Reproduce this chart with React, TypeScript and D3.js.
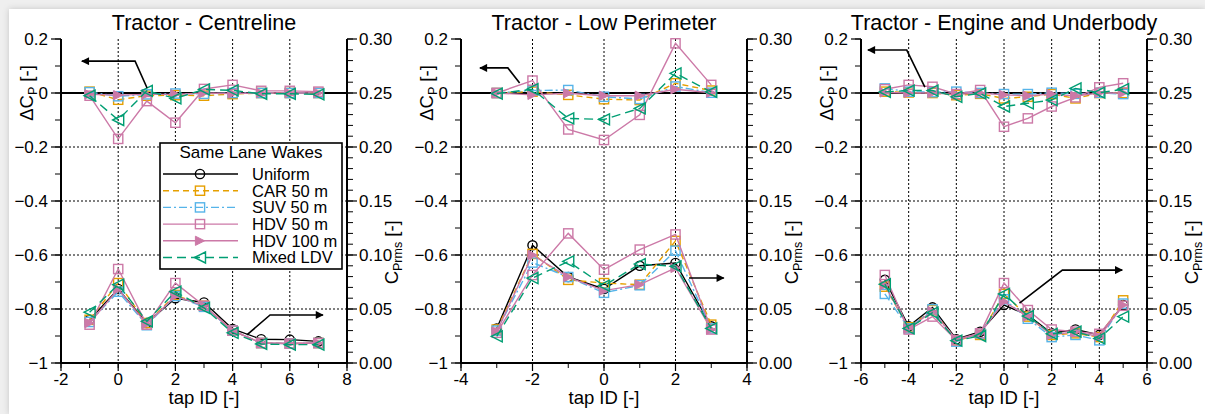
import React from "react";
import * as d3 from "d3";

const FONT = "'Liberation Sans', Arial, Helvetica, sans-serif";

const seriesNames = ["Uniform", "CAR 50 m", "SUV 50 m", "HDV 50 m", "HDV 100 m", "Mixed LDV"];
const seriesColors = ["#000000", "#E69F00", "#56B4E9", "#CC79A7", "#CC79A7", "#009E73"];
const seriesDash: (string | null)[] = [null, "6,4", "8,3,2,3", null, null, "9,5"];
const seriesMarkers = ["circle", "square", "square", "square", "triRight", "triLeft"];

const panelTitles = ["Tractor - Centreline", "Tractor - Low Perimeter", "Tractor - Engine and Underbody"];
const xDomains = [[-2, 8], [-4, 4], [-6, 6]];
const xTickValues = [[-2, 0, 2, 4, 6, 8], [-4, -2, 0, 2, 4], [-6, -4, -2, 0, 2, 4, 6]];
const leftTicks = [0.2, 0, -0.2, -0.4, -0.6, -0.8, -1];
const rightTicks = [0.3, 0.25, 0.2, 0.15, 0.1, 0.05, 0];

// ---- Panel 1: Centreline ----
const centreTaps = [-1, 0, 1, 2, 3, 4, 5, 6, 7];
const centreDcpCar = [0.005, -0.025, -0.01, -0.008, -0.01, -0.004, 0, 0, 0];
const centreDcpSuv = [0.003, -0.012, -0.005, -0.002, -0.003, 0, 0, 0, 0];
const centreDcpHdv50 = [-0.01, -0.17, -0.03, -0.11, 0.015, 0.03, 0.008, 0.008, 0.005];
const centreDcpHdv100 = [-0.005, -0.008, -0.005, -0.005, 0, -0.002, 0, 0, 0];
const centreDcpMixed = [-0.01, -0.1, 0.008, -0.02, 0.013, 0.01, -0.003, -0.003, -0.005];
const centreRmsUniform = [0.04, 0.0685, 0.037, 0.06, 0.056, 0.0315, 0.022, 0.0216, 0.02];
const centreRmsCar = [0.04, 0.074, 0.037, 0.063, 0.053, 0.03, 0.0185, 0.018, 0.0185];
const centreRmsSuv = [0.038, 0.066, 0.035, 0.062, 0.052, 0.03, 0.0185, 0.018, 0.0185];
const centreRmsHdv50 = [0.0355, 0.087, 0.0355, 0.074, 0.053, 0.03, 0.0185, 0.018, 0.0185];
const centreRmsHdv100 = [0.037, 0.0685, 0.036, 0.062, 0.053, 0.03, 0.0185, 0.018, 0.0185];
const centreRmsMixed = [0.047, 0.0725, 0.0386, 0.066, 0.051, 0.028, 0.0176, 0.017, 0.017];

// ---- Panel 2: Low Perimeter ----
const perimTaps = [-3, -2, -1, 0, 1, 2, 3];
const perimDcpCar = [0, 0.005, -0.007, -0.023, -0.026, 0.036, 0.009];
const perimDcpSuv = [0, 0.009, 0.011, -0.014, -0.022, 0.024, 0.001];
const perimDcpHdv50 = [0, 0.046, -0.135, -0.174, -0.081, 0.184, 0.03];
const perimDcpHdv100 = [0, -0.007, -0.001, -0.01, -0.01, 0.014, 0.001];
const perimDcpMixed = [-0.002, 0.014, -0.094, -0.098, -0.057, 0.073, 0.004];
const perimRmsUniform = [0.032, 0.109, 0.0796, 0.0685, 0.09, 0.0926, 0.034];
const perimRmsCar = [0.031, 0.101, 0.077, 0.074, 0.0725, 0.113, 0.0355];
const perimRmsSuv = [0.03, 0.093, 0.0796, 0.065, 0.072, 0.104, 0.032];
const perimRmsHdv50 = [0.028, 0.0815, 0.12, 0.0864, 0.105, 0.119, 0.031];
const perimRmsHdv100 = [0.029, 0.1, 0.0796, 0.067, 0.0725, 0.088, 0.031];
const perimRmsMixed = [0.0247, 0.0787, 0.094, 0.0716, 0.0916, 0.0895, 0.032];

// ---- Panel 3: Engine and Underbody ----
const engineTaps = [-5, -4, -3, -2, -1, 0, 1, 2, 3, 4, 5];
const engineDcpCar = [0.005, 0.002, 0, -0.008, -0.003, -0.02, -0.014, -0.004, -0.02, 0, 0];
const engineDcpSuv = [0.017, 0.005, 0.003, 0.005, 0, -0.004, -0.004, 0.001, -0.003, 0.001, -0.004];
const engineDcpHdv50 = [0.014, 0.03, 0.023, -0.004, 0.011, -0.125, -0.094, -0.05, -0.016, 0.021, 0.036];
const engineDcpHdv100 = [0.002, 0, 0, -0.005, 0, -0.007, -0.01, -0.004, -0.011, 0, 0];
const engineDcpMixed = [0.004, 0.009, 0.009, -0.014, -0.001, -0.05, -0.038, -0.026, 0.017, 0.001, 0.014];
const engineRmsUniform = [0.077, 0.034, 0.0515, 0.022, 0.029, 0.0537, 0.0444, 0.0275, 0.031, 0.026, 0.0537];
const engineRmsCar = [0.0707, 0.033, 0.049, 0.021, 0.026, 0.064, 0.043, 0.026, 0.0275, 0.024, 0.058];
const engineRmsSuv = [0.064, 0.032, 0.0497, 0.0198, 0.0275, 0.059, 0.041, 0.024, 0.026, 0.021, 0.055];
const engineRmsHdv50 = [0.0815, 0.031, 0.043, 0.021, 0.0275, 0.074, 0.049, 0.031, 0.029, 0.027, 0.053];
const engineRmsHdv100 = [0.072, 0.032, 0.048, 0.0219, 0.0275, 0.0568, 0.043, 0.026, 0.029, 0.0244, 0.0537];
const engineRmsMixed = [0.073, 0.032, 0.0466, 0.0207, 0.025, 0.064, 0.0435, 0.027, 0.029, 0.0228, 0.043];

// annotation arrows in data units [tap, ΔCp]; last point is the arrow tip
const arrowsTop = [
  [[1.01, 0.0185], [0.59, 0.118], [-1.27, 0.118]],
  [[-2.36, 0.037], [-2.69, 0.093], [-3.47, 0.093]],
  [[-3.32, 0.022], [-4.08, 0.159], [-5.71, 0.159]],
];
const arrowsBottom = [
  [[4.5, -0.896], [5.31, -0.822], [7.16, -0.822]],
  [[2.38, -0.685], [3.35, -0.685]],
  [[0.65, -0.778], [2.45, -0.656], [4.96, -0.656]],
];

const panels = [
  {
    taps: centreTaps,
    dcp: [null, centreDcpCar, centreDcpSuv, centreDcpHdv50, centreDcpHdv100, centreDcpMixed],
    rms: [centreRmsUniform, centreRmsCar, centreRmsSuv, centreRmsHdv50, centreRmsHdv100, centreRmsMixed],
  },
  {
    taps: perimTaps,
    dcp: [null, perimDcpCar, perimDcpSuv, perimDcpHdv50, perimDcpHdv100, perimDcpMixed],
    rms: [perimRmsUniform, perimRmsCar, perimRmsSuv, perimRmsHdv50, perimRmsHdv100, perimRmsMixed],
  },
  {
    taps: engineTaps,
    dcp: [null, engineDcpCar, engineDcpSuv, engineDcpHdv50, engineDcpHdv100, engineDcpMixed],
    rms: [engineRmsUniform, engineRmsCar, engineRmsSuv, engineRmsHdv50, engineRmsHdv100, engineRmsMixed],
  },
];

const W = 1205;
const H = 414;
const PLOT_TOP = 39;
const PLOT_BOTTOM = 363;
const PLOT_W = 286;

function Marker({ type, x, y, color }: { type: string; x: number; y: number; color: string }) {
  if (type === "circle") return <circle cx={x} cy={y} r={4.6} fill="none" stroke={color} strokeWidth={1.4} />;
  if (type === "square")
    return <rect x={x - 4.6} y={y - 4.6} width={9.2} height={9.2} fill="none" stroke={color} strokeWidth={1.4} />;
  if (type === "triRight") {
    const s = 4.6;
    return <path d={`M${x + s},${y} L${x - s},${y - s} L${x - s},${y + s} Z`} fill={color} stroke={color} strokeWidth={1} />;
  }
  const s = 5.5;
  return <path d={`M${x - s},${y} L${x + s},${y - s} L${x + s},${y + s} Z`} fill="none" stroke={color} strokeWidth={1.4} />;
}

function Panel({ idx }: { idx: number }) {
  const left = 61 + idx * 400;
  const right = left + PLOT_W;
  const p = panels[idx];
  const x = d3.scaleLinear().domain(xDomains[idx]).range([left, right]);
  const yL = d3.scaleLinear().domain([-1, 0.2]).range([PLOT_BOTTOM, PLOT_TOP]);
  const yR = d3.scaleLinear().domain([0, 0.3]).range([PLOT_BOTTOM, PLOT_TOP]);
  const [x0, x1] = xDomains[idx];
  const xMinor = d3.range(x0, x1 + 0.001, 1);
  const leftMinor = d3.range(-1, 0.2001, 0.1);
  const rightMinor = d3.range(0, 0.3001, 0.01);

  const lineGen = (ys: number[], scale: d3.ScaleLinear<number, number>) =>
    d3
      .line<number>()
      .x((_, i) => x(p.taps[i]))
      .y((v) => scale(v))(ys) || "";

  const arrowPath = (pts: number[][]) =>
    d3
      .line<number[]>()
      .x((d) => x(d[0]))
      .y((d) => yL(d[1]))(pts) || "";

  const cx = (left + right) / 2;

  return (
    <g>
      {/* title */}
      <text x={cx} y={30} textAnchor="middle" fontSize={21.5} fontFamily={FONT}>
        {panelTitles[idx]}
      </text>
      {/* grid */}
      {xTickValues[idx]
        .filter((t) => t !== x0 && t !== x1)
        .map((t) => (
          <line key={"gx" + t} x1={x(t)} x2={x(t)} y1={PLOT_TOP} y2={PLOT_BOTTOM} stroke="#000" strokeWidth={1} strokeDasharray="2,2" />
        ))}
      {[-0.2, -0.4, -0.6, -0.8].map((t) => (
        <line key={"gy" + t} x1={left} x2={right} y1={yL(t)} y2={yL(t)} stroke="#000" strokeWidth={1} strokeDasharray="2,2" />
      ))}
      {/* zero line */}
      <line x1={left} x2={right} y1={yL(0)} y2={yL(0)} stroke="#000" strokeWidth={2} />

      {/* series: ΔCp (top) and Cprms (bottom) */}
      {seriesNames.map((name, s) => {
        const color = seriesColors[s];
        const dash = seriesDash[s] || undefined;
        const dcp = p.dcp[s];
        const rms = p.rms[s];
        return (
          <g key={name}>
            {dcp && (
              <path d={lineGen(dcp, yL)} fill="none" stroke={color} strokeWidth={1.4} strokeDasharray={dash} />
            )}
            {rms && (
              <path d={lineGen(rms, yR)} fill="none" stroke={color} strokeWidth={1.4} strokeDasharray={dash} />
            )}
            {dcp &&
              dcp.map((v, i) => <Marker key={"d" + i} type={seriesMarkers[s]} x={x(p.taps[i])} y={yL(v)} color={color} />)}
            {rms &&
              rms.map((v, i) => <Marker key={"r" + i} type={seriesMarkers[s]} x={x(p.taps[i])} y={yR(v)} color={color} />)}
          </g>
        );
      })}

      {/* left axis */}
      <line x1={left} x2={left} y1={PLOT_TOP} y2={PLOT_BOTTOM + 1} stroke="#000" strokeWidth={2} />
      {leftMinor.map((t, i) => (
        <line key={"lm" + i} x1={left - 6} x2={left} y1={yL(t)} y2={yL(t)} stroke="#000" strokeWidth={1} />
      ))}
      {leftTicks.map((t) => (
        <g key={"lt" + t}>
          <line x1={left - 10} x2={left} y1={yL(t)} y2={yL(t)} stroke="#000" strokeWidth={1.2} />
          <text x={left - 13} y={yL(t)} dy="0.36em" textAnchor="end" fontSize={17} fontFamily={FONT}>
            {d3.format("")(+t.toFixed(1))}
          </text>
        </g>
      ))}
      {/* right axis */}
      <line x1={right} x2={right} y1={PLOT_TOP} y2={PLOT_BOTTOM + 1} stroke="#000" strokeWidth={2} />
      {rightMinor.map((t, i) => (
        <line key={"rm" + i} x1={right} x2={right + 6} y1={yR(t)} y2={yR(t)} stroke="#000" strokeWidth={1} />
      ))}
      {rightTicks.map((t) => (
        <g key={"rt" + t}>
          <line x1={right} x2={right + 10} y1={yR(t)} y2={yR(t)} stroke="#000" strokeWidth={1.2} />
          <text x={right + 12} y={yR(t)} dy="0.36em" textAnchor="start" fontSize={17} fontFamily={FONT}>
            {d3.format(".2f")(t)}
          </text>
        </g>
      ))}
      {/* bottom axis */}
      <line x1={left - 1} x2={right + 1} y1={PLOT_BOTTOM} y2={PLOT_BOTTOM} stroke="#000" strokeWidth={2.2} />
      {xMinor.map((t) => (
        <line key={"xm" + t} x1={x(t)} x2={x(t)} y1={PLOT_BOTTOM} y2={PLOT_BOTTOM + 5} stroke="#000" strokeWidth={1} />
      ))}
      {xTickValues[idx].map((t) => (
        <g key={"xt" + t}>
          <line x1={x(t)} x2={x(t)} y1={PLOT_BOTTOM} y2={PLOT_BOTTOM + 8} stroke="#000" strokeWidth={1.2} />
          <text x={x(t)} y={PLOT_BOTTOM + 22} textAnchor="middle" fontSize={17} fontFamily={FONT}>
            {t}
          </text>
        </g>
      ))}
      <text x={cx} y={404} textAnchor="middle" fontSize={18.5} fontFamily={FONT}>
        tap ID [-]
      </text>
      {/* left axis title */}
      <text transform={`translate(${left - 28},${yL(0)}) rotate(-90)`} textAnchor="middle" fontSize={18.5} fontFamily={FONT}>
        ΔC
        <tspan fontSize={12.5} dy={4}>
          P
        </tspan>
        <tspan dy={-4}> [-]</tspan>
      </text>
      {/* right axis title */}
      <text transform={`translate(${right + 51},${yL(-0.59)}) rotate(-90)`} textAnchor="middle" fontSize={18.5} fontFamily={FONT}>
        C
        <tspan fontSize={12.5} dy={4}>
          Prms
        </tspan>
        <tspan dy={-4}> [-]</tspan>
      </text>

      {/* arrows */}
      {[arrowsTop[idx], arrowsBottom[idx]].map((pts, k) => (
        <path key={"ar" + k} d={arrowPath(pts)} fill="none" stroke="#000" strokeWidth={1.6} markerEnd="url(#arrowHead)" />
      ))}

      {/* legend */}
      {idx === 0 && <Legend left={left} />}
    </g>
  );
}

function Legend({ left }: { left: number }) {
  const bx = left + 99;
  const by = 143;
  const bw = 182;
  const bh = 126;
  const rowY0 = 174;
  const rowStep = 16.7;
  return (
    <g>
      <rect x={bx} y={by} width={bw} height={bh} fill="#fff" stroke="#000" strokeWidth={1.6} />
      <text x={bx + bw / 2} y={by + 15} textAnchor="middle" fontSize={17} fontFamily={FONT}>
        Same Lane Wakes
      </text>
      {seriesNames.map((name, s) => {
        const y = rowY0 + s * rowStep;
        return (
          <g key={name}>
            <line
              x1={bx + 3}
              x2={bx + 78}
              y1={y}
              y2={y}
              stroke={seriesColors[s]}
              strokeWidth={1.4}
              strokeDasharray={seriesDash[s] || undefined}
            />
            <Marker type={seriesMarkers[s]} x={bx + 40} y={y} color={seriesColors[s]} />
            <text x={bx + 92} y={y} dy="0.36em" fontSize={16.5} fontFamily={FONT}>
              {name}
            </text>
          </g>
        );
      })}
    </g>
  );
}

export default function App() {
  return (
    <div style={{ position: "absolute", left: 0, top: 0 }}>
      <svg width={W} height={H} viewBox={`0 0 ${W} ${H}`} style={{ display: "block" }}>
        <defs>
          <marker id="arrowHead" viewBox="0 0 10 10" refX={9} refY={5} markerWidth={11} markerHeight={8} markerUnits="userSpaceOnUse" orient="auto">
            <path d="M0,0 L10,5 L0,10 Z" fill="#000" />
          </marker>
          <filter id="shadow" x="-5%" y="-5%" width="110%" height="110%">
            <feDropShadow dx={0} dy={0} stdDeviation={3} floodColor="#000" floodOpacity={0.18} />
          </filter>
        </defs>
        <rect x={0} y={0} width={W} height={H} fill="#efefef" />
        <rect x={9} y={9} width={W - 9} height={H - 9} fill="#fff" filter="url(#shadow)" />
        {[0, 1, 2].map((i) => (
          <Panel key={i} idx={i} />
        ))}
      </svg>
    </div>
  );
}
